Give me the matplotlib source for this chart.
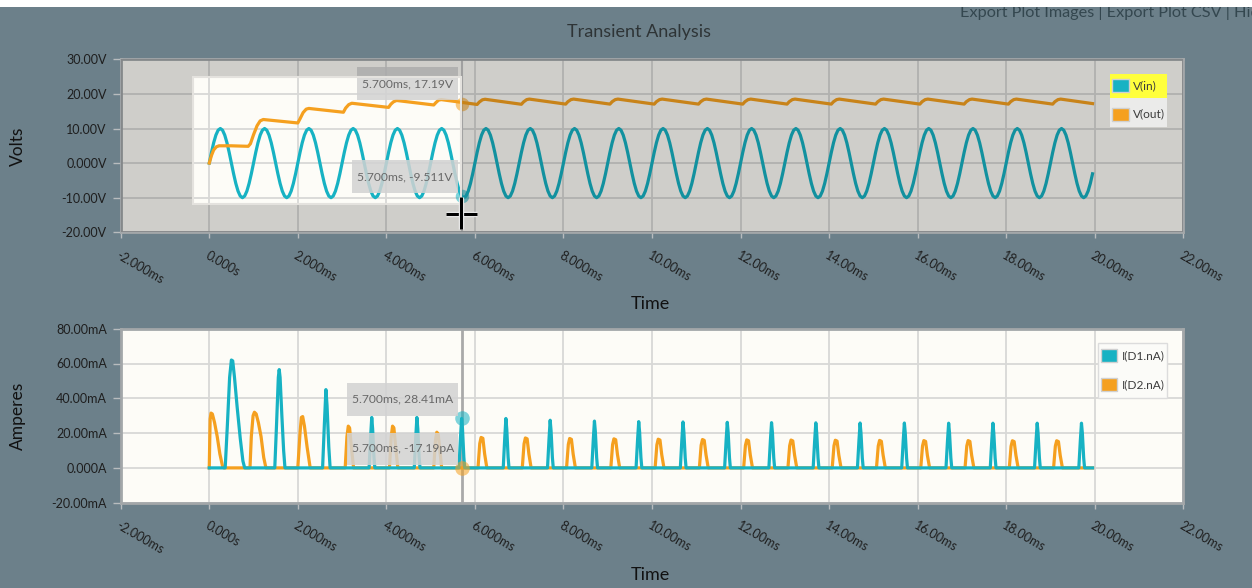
import numpy as np
import matplotlib
matplotlib.use("Agg")
import matplotlib.pyplot as plt
from matplotlib.patches import Rectangle, PathPatch
from matplotlib.path import Path
from matplotlib.lines import Line2D
import matplotlib.patheffects as pe

plt.rcParams['font.family'] = ['Lato', 'DejaVu Sans']

# ---------------- data ----------------
title = "Transient Analysis"
series_top = ["V(in)", "V(out)"]
series_bot = ["I(D1.nA)", "I(D2.nA)"]

# V(in) sampled every 0.05 ms (0 .. 19.95 ms)
vin_step = 0.05
vin_v = [
 0.0, 3.09, 5.88, 8.09, 9.51, 10.0, 9.51, 8.09, 5.88, 3.09, 0.0, -3.09, -5.88, -8.09, -9.51, -10.0, -9.51, -8.09, -5.88, -3.09,
 0.0, 3.09, 5.88, 8.09, 9.51, 10.0, 9.51, 8.09, 5.88, 3.09, 0.0, -3.09, -5.88, -8.09, -9.51, -10.0, -9.51, -8.09, -5.88, -3.09,
 0.0, 3.09, 5.88, 8.09, 9.51, 10.0, 9.51, 8.09, 5.88, 3.09, 0.0, -3.09, -5.88, -8.09, -9.51, -10.0, -9.51, -8.09, -5.88, -3.09,
 0.0, 3.09, 5.88, 8.09, 9.51, 10.0, 9.51, 8.09, 5.88, 3.09, 0.0, -3.09, -5.88, -8.09, -9.51, -10.0, -9.51, -8.09, -5.88, -3.09,
 0.0, 3.09, 5.88, 8.09, 9.51, 10.0, 9.51, 8.09, 5.88, 3.09, 0.0, -3.09, -5.88, -8.09, -9.51, -10.0, -9.51, -8.09, -5.88, -3.09,
 0.0, 3.09, 5.88, 8.09, 9.51, 10.0, 9.51, 8.09, 5.88, 3.09, 0.0, -3.09, -5.88, -8.09, -9.51, -10.0, -9.51, -8.09, -5.88, -3.09,
 0.0, 3.09, 5.88, 8.09, 9.51, 10.0, 9.51, 8.09, 5.88, 3.09, 0.0, -3.09, -5.88, -8.09, -9.51, -10.0, -9.51, -8.09, -5.88, -3.09,
 0.0, 3.09, 5.88, 8.09, 9.51, 10.0, 9.51, 8.09, 5.88, 3.09, 0.0, -3.09, -5.88, -8.09, -9.51, -10.0, -9.51, -8.09, -5.88, -3.09,
 0.0, 3.09, 5.88, 8.09, 9.51, 10.0, 9.51, 8.09, 5.88, 3.09, 0.0, -3.09, -5.88, -8.09, -9.51, -10.0, -9.51, -8.09, -5.88, -3.09,
 0.0, 3.09, 5.88, 8.09, 9.51, 10.0, 9.51, 8.09, 5.88, 3.09, 0.0, -3.09, -5.88, -8.09, -9.51, -10.0, -9.51, -8.09, -5.88, -3.09,
 0.0, 3.09, 5.88, 8.09, 9.51, 10.0, 9.51, 8.09, 5.88, 3.09, 0.0, -3.09, -5.88, -8.09, -9.51, -10.0, -9.51, -8.09, -5.88, -3.09,
 0.0, 3.09, 5.88, 8.09, 9.51, 10.0, 9.51, 8.09, 5.88, 3.09, 0.0, -3.09, -5.88, -8.09, -9.51, -10.0, -9.51, -8.09, -5.88, -3.09,
 0.0, 3.09, 5.88, 8.09, 9.51, 10.0, 9.51, 8.09, 5.88, 3.09, 0.0, -3.09, -5.88, -8.09, -9.51, -10.0, -9.51, -8.09, -5.88, -3.09,
 0.0, 3.09, 5.88, 8.09, 9.51, 10.0, 9.51, 8.09, 5.88, 3.09, 0.0, -3.09, -5.88, -8.09, -9.51, -10.0, -9.51, -8.09, -5.88, -3.09,
 0.0, 3.09, 5.88, 8.09, 9.51, 10.0, 9.51, 8.09, 5.88, 3.09, 0.0, -3.09, -5.88, -8.09, -9.51, -10.0, -9.51, -8.09, -5.88, -3.09,
 0.0, 3.09, 5.88, 8.09, 9.51, 10.0, 9.51, 8.09, 5.88, 3.09, 0.0, -3.09, -5.88, -8.09, -9.51, -10.0, -9.51, -8.09, -5.88, -3.09,
 0.0, 3.09, 5.88, 8.09, 9.51, 10.0, 9.51, 8.09, 5.88, 3.09, 0.0, -3.09, -5.88, -8.09, -9.51, -10.0, -9.51, -8.09, -5.88, -3.09,
 0.0, 3.09, 5.88, 8.09, 9.51, 10.0, 9.51, 8.09, 5.88, 3.09, 0.0, -3.09, -5.88, -8.09, -9.51, -10.0, -9.51, -8.09, -5.88, -3.09,
 0.0, 3.09, 5.88, 8.09, 9.51, 10.0, 9.51, 8.09, 5.88, 3.09, 0.0, -3.09, -5.88, -8.09, -9.51, -10.0, -9.51, -8.09, -5.88, -3.09,
 0.0, 3.09, 5.88, 8.09, 9.51, 10.0, 9.51, 8.09, 5.88, 3.09, 0.0, -3.09, -5.88, -8.09, -9.51, -10.0, -9.51, -8.09, -5.88, -3.09,
]

# V(out) (time ms, volts)
vout_t = [0.0, 0.05, 0.1, 0.16, 0.22, 0.5, 0.88, 0.93, 1.0, 1.08, 1.15, 1.22,
          2.0, 2.05, 2.12, 2.19, 2.25,
          3.03, 3.08, 3.15, 3.22,
          4.05, 4.1, 4.16, 4.23,
          5.07, 5.12, 5.18, 5.24,
          6.05, 6.1, 6.17, 6.23,
          7.05, 7.1, 7.17, 7.23,
          8.05, 8.1, 8.17, 8.23,
          9.05, 9.1, 9.17, 9.23,
          10.05, 10.1, 10.17, 10.23,
          11.05, 11.1, 11.17, 11.23,
          12.05, 12.1, 12.17, 12.23,
          13.05, 13.1, 13.17, 13.23,
          14.05, 14.1, 14.17, 14.23,
          15.05, 15.1, 15.17, 15.23,
          16.05, 16.1, 16.17, 16.23,
          17.05, 17.1, 17.17, 17.23,
          18.05, 18.1, 18.17, 18.23,
          19.05, 19.1, 19.17, 19.23,
          19.95]
vout_v = [0.0, 2.2, 3.8, 4.7, 5.0, 5.0, 4.85, 5.6, 8.2, 10.8, 12.2, 12.6,
          11.6, 12.8, 14.6, 15.6, 15.8,
          14.7, 15.9, 16.9, 17.3,
          16.1, 17.0, 17.7, 18.1,
          16.8, 17.5, 18.2, 18.35,
          16.95, 17.65, 18.3, 18.45,
          17.0, 17.7, 18.35, 18.5,
          17.05, 17.75, 18.35, 18.5,
          17.05, 17.75, 18.35, 18.5,
          17.05, 17.75, 18.35, 18.5,
          17.05, 17.75, 18.35, 18.5,
          17.05, 17.75, 18.35, 18.5,
          17.05, 17.75, 18.35, 18.5,
          17.05, 17.75, 18.35, 18.5,
          17.05, 17.75, 18.35, 18.5,
          17.05, 17.75, 18.35, 18.5,
          17.05, 17.75, 18.35, 18.5,
          17.05, 17.75, 18.35, 18.5,
          17.05, 17.75, 18.35, 18.5,
          17.2]

# I(D1) (time ms, mA)
d1_t = [0.0, 0.36, 0.41, 0.46, 0.5, 0.53, 0.57, 0.63, 0.7, 0.76, 0.8,
        1.48, 1.52, 1.56, 1.58, 1.6, 1.64, 1.68, 1.71,
        2.56, 2.6, 2.635, 2.66, 2.7, 2.73,
        3.61, 3.645, 3.67, 3.69, 3.72, 3.74,
        4.63, 4.665, 4.69, 4.71, 4.74, 4.76,
        5.64, 5.675, 5.7, 5.72, 5.75, 5.77,
        6.64, 6.675, 6.7, 6.72, 6.75, 6.77,
        7.64, 7.675, 7.7, 7.72, 7.75, 7.77,
        8.64, 8.675, 8.7, 8.72, 8.75, 8.77,
        9.64, 9.675, 9.7, 9.72, 9.75, 9.77,
        10.64, 10.675, 10.7, 10.72, 10.75, 10.77,
        11.64, 11.675, 11.7, 11.72, 11.75, 11.77,
        12.64, 12.675, 12.7, 12.72, 12.75, 12.77,
        13.64, 13.675, 13.7, 13.72, 13.75, 13.77,
        14.64, 14.675, 14.7, 14.72, 14.75, 14.77,
        15.64, 15.675, 15.7, 15.72, 15.75, 15.77,
        16.64, 16.675, 16.7, 16.72, 16.75, 16.77,
        17.64, 17.675, 17.7, 17.72, 17.75, 17.77,
        18.64, 18.675, 18.7, 18.72, 18.75, 18.77,
        19.64, 19.675, 19.7, 19.72, 19.75, 19.77,
        19.95]
d1_i = [0, 0, 25, 52, 62, 61.5, 52, 35, 17, 4, 0,
        0, 25, 52, 56.5, 52, 30, 10, 0,
        0, 25, 45, 36, 12, 0,
        0, 18, 29, 22.5, 6.3, 0,
        0, 18, 29, 22.5, 6.3, 0,
        0, 17.7, 28.41, 22.3, 6.2, 0,
        0, 17.6, 28.4, 22.2, 6.2, 0,
        0, 17.0, 27.4, 21.4, 6.0, 0,
        0, 16.7, 26.9, 21.0, 5.9, 0,
        0, 16.5, 26.6, 20.7, 5.9, 0,
        0, 16.4, 26.4, 20.6, 5.8, 0,
        0, 16.2, 26.2, 20.4, 5.8, 0,
        0, 16.1, 26.0, 20.3, 5.7, 0,
        0, 16.1, 25.9, 20.2, 5.7, 0,
        0, 16.0, 25.8, 20.1, 5.7, 0,
        0, 16.0, 25.8, 20.1, 5.7, 0,
        0, 15.9, 25.7, 20.0, 5.7, 0,
        0, 15.9, 25.7, 20.0, 5.7, 0,
        0, 15.9, 25.7, 20.0, 5.7, 0,
        0, 15.9, 25.7, 20.0, 5.7, 0,
        0]

# I(D2) (time ms, mA)
d2_t = [0.0, 0.02, 0.04, 0.07, 0.12, 0.18, 0.24, 0.3, 0.33,
        0.92, 0.95, 0.99, 1.02, 1.06, 1.11, 1.17, 1.23, 1.28,
        2.0, 2.05, 2.08, 2.11, 2.15, 2.21, 2.28,
        3.07, 3.11, 3.14, 3.17, 3.21, 3.26,
        4.07, 4.11, 4.14, 4.17, 4.21, 4.26,
        5.07, 5.11, 5.14, 5.17, 5.21, 5.25,
        6.07, 6.11, 6.14, 6.18, 6.22, 6.27,
        7.07, 7.11, 7.14, 7.18, 7.22, 7.27,
        8.07, 8.11, 8.14, 8.18, 8.22, 8.27,
        9.07, 9.11, 9.14, 9.18, 9.22, 9.27,
        10.07, 10.11, 10.14, 10.18, 10.22, 10.27,
        11.07, 11.11, 11.14, 11.18, 11.22, 11.27,
        12.07, 12.11, 12.14, 12.18, 12.22, 12.27,
        13.07, 13.11, 13.14, 13.18, 13.22, 13.27,
        14.07, 14.11, 14.14, 14.18, 14.22, 14.27,
        15.07, 15.11, 15.14, 15.18, 15.22, 15.27,
        16.07, 16.11, 16.14, 16.18, 16.22, 16.27,
        17.07, 17.11, 17.14, 17.18, 17.22, 17.27,
        18.07, 18.11, 18.14, 18.18, 18.22, 18.27,
        19.07, 19.11, 19.14, 19.18, 19.22, 19.27,
        19.95]
d2_i = [0, 28, 31.5, 31, 26, 18, 8, 1, 0,
        0, 18, 30, 32, 31, 26, 18, 6, 0,
        0, 20, 29, 29.5, 24, 12, 0,
        0, 18, 24, 23, 12, 0,
        0, 18, 24, 23, 12, 0,
        0, 16, 20.5, 19.5, 10, 0,
        0, 14.0, 17.5, 17.0, 8.0, 0,
        0, 13.8, 17.2, 16.7, 7.9, 0,
        0, 13.5, 16.9, 16.4, 7.8, 0,
        0, 13.4, 16.7, 16.2, 7.7, 0,
        0, 13.2, 16.5, 16.0, 7.6, 0,
        0, 13.0, 16.3, 15.8, 7.5, 0,
        0, 12.9, 16.1, 15.6, 7.4, 0,
        0, 12.8, 16.0, 15.5, 7.4, 0,
        0, 12.7, 15.9, 15.4, 7.3, 0,
        0, 12.6, 15.8, 15.3, 7.3, 0,
        0, 12.6, 15.7, 15.2, 7.2, 0,
        0, 12.6, 15.7, 15.2, 7.2, 0,
        0, 12.5, 15.6, 15.1, 7.2, 0,
        0, 12.5, 15.6, 15.1, 7.2, 0,
        0]

# hover readout at 5.700 ms
hover_t = 5.7
hover_vout = 17.19
hover_vin = -9.511
hover_d1 = 28.41
hover_d2 = -17.19e-9
hover_labels = ["5.700ms, 17.19V", "5.700ms, -9.511V", "5.700ms, 28.41mA", "5.700ms, -17.19pA"]

x_ticks = [-2, 0, 2, 4, 6, 8, 10, 12, 14, 16, 18, 20, 22]
x_tick_labels = ["-2.000ms", "0.000s", "2.000ms", "4.000ms", "6.000ms", "8.000ms", "10.00ms",
                 "12.00ms", "14.00ms", "16.00ms", "18.00ms", "20.00ms", "22.00ms"]
v_ticks = [-20, -10, 0, 10, 20, 30]
v_tick_labels = ["-20.00V", "-10.00V", "0.000V", "10.00V", "20.00V", "30.00V"]
i_ticks = [-20, 0, 20, 40, 60, 80]
i_tick_labels = ["-20.00mA", "0.000A", "20.00mA", "40.00mA", "60.00mA", "80.00mA"]

# ---------------- style ----------------
W, H = 1252, 588
BG = "#6c808a"
PLOT_BG = "#fdfcf7"
TEAL = "#17b2c3"
ORANGE = "#f5a01f"
GRID = "#d8d8d6"

fig = plt.figure(figsize=(W / 100, H / 100), dpi=100)
fig.patch.set_facecolor(BG)


def fx(x):
    return x / W


def fy(y):
    return 1 - y / H


def add_axes_px(l, t, r, b):
    return fig.add_axes([fx(l), fy(b), (r - l) / W, (b - t) / H])


ax1 = add_axes_px(120.7, 59.3, 1183.3, 232.3)
ax2 = add_axes_px(120.7, 328.7, 1183.3, 502.7)

for ax, yt, ytl, ylim in [(ax1, v_ticks, v_tick_labels, (-20, 30)),
                          (ax2, i_ticks, i_tick_labels, (-20, 80))]:
    ax.set_facecolor(PLOT_BG)
    ax.set_xlim(-2, 22)
    ax.set_ylim(*ylim)
    ax.set_xticks(x_ticks)
    ax.set_xticklabels(x_tick_labels, rotation=-30, ha="left", va="top",
                       rotation_mode="anchor")
    ax.set_yticks(yt)
    ax.set_yticklabels(ytl)
    ax.tick_params(axis="x", length=4, width=1, color="#b8bcbe", pad=8,
                   labelsize=9, labelcolor="#1e1e1e")
    ax.tick_params(axis="y", length=6, width=1, color="#b8bcbe", pad=4,
                   labelsize=9, labelcolor="#1e1e1e")
    ax.grid(True, color=GRID, lw=1.3)
    ax.set_axisbelow(True)
    for s in ax.spines.values():
        s.set_color("#a3a7a9")
        s.set_linewidth(2)

t_in = np.arange(len(vin_v)) * vin_step

# top chart lines
ax1.plot(t_in, vin_v, color=TEAL, lw=2.3, zorder=3, solid_joinstyle="round")
ax1.plot(vout_t, vout_v, color=ORANGE, lw=2.3, zorder=4, solid_joinstyle="round")

# bottom chart lines
ax2.plot(d2_t, d2_i, color=ORANGE, lw=2.3, zorder=3, solid_joinstyle="round")
ax2.plot(d1_t, d1_i, color=TEAL, lw=2.3, zorder=4, solid_joinstyle="round")

# hover vertical lines
ax1.axvline(hover_t, color="#c4c4c4", lw=1.5, zorder=2.5)
ax2.axvline(hover_t, color="#a9a9a9", lw=2, zorder=2.5)

# hover markers
ax1.scatter([hover_t], [hover_vout], s=95, color=ORANGE, alpha=0.55, zorder=5, lw=0)
ax1.scatter([hover_t], [hover_vin], s=95, color=TEAL, alpha=0.55, zorder=5, lw=0)
ax2.scatter([hover_t], [hover_d1], s=110, color=TEAL, alpha=0.55, zorder=5, lw=0)
ax2.scatter([hover_t], [hover_d2 * 1e3], s=110, color=ORANGE, alpha=0.55, zorder=5, lw=0)


# tooltips (pixel boxes)
def tooltip(ax, l, t, r, b, text):
    ax.add_patch(Rectangle((fx(l), fy(b)), (r - l) / W, (b - t) / H,
                           transform=fig.transFigure, facecolor="#d2d2d2",
                           edgecolor="none", alpha=0.85, zorder=6, clip_on=False))
    ax.text(fx((l + r) / 2), fy((t + b) / 2), text, transform=fig.transFigure,
            ha="center", va="center", fontsize=8.7, color="#686868", zorder=7)


tooltip(ax1, 356.7, 67.3, 458.3, 100.0, hover_labels[0])
tooltip(ax1, 352.3, 160.0, 458.3, 193.3, hover_labels[1])
tooltip(ax2, 347.3, 382.7, 458.3, 416.0, hover_labels[2])
tooltip(ax2, 347.3, 432.7, 458.3, 465.0, hover_labels[3])

# selection rectangle with dimmed surroundings (top chart)
sx0, sx1, sy0, sy1 = -0.375, 5.69, -11.85, 24.75
verts = [(-2, -20), (22, -20), (22, 30), (-2, 30), (-2, -20),
         (sx0, sy0), (sx0, sy1), (sx1, sy1), (sx1, sy0), (sx0, sy0)]
codes = [Path.MOVETO, Path.LINETO, Path.LINETO, Path.LINETO, Path.CLOSEPOLY] * 2
ax1.add_patch(PathPatch(Path(verts, codes), facecolor="black", alpha=0.18,
                        edgecolor="none", zorder=8))
ax1.add_patch(Rectangle((sx0, sy0), sx1 - sx0, sy1 - sy0, fill=False,
                        edgecolor="#e4e2de", lw=1.5, zorder=8.5))

# legends (pixel placement)
def legend_box(l, t, r, b, face, edge):
    fig.add_artist(Rectangle((fx(l), fy(b)), (r - l) / W, (b - t) / H,
                             transform=fig.transFigure, facecolor=face,
                             edgecolor=edge, lw=1, zorder=20))


def legend_entry(x, y, color, label):
    fig.add_artist(Rectangle((fx(x), fy(y + 6.5)), 16.5 / W, 13 / H,
                             transform=fig.transFigure, facecolor=color,
                             edgecolor="#d0d0d0", lw=1, zorder=21))
    fig.text(fx(x + 21), fy(y), label, ha="left", va="center", fontsize=8.6,
             color="#3c3c3c", zorder=22)


legend_box(1110, 74, 1167.3, 127.3, "#ebebea", "none")
legend_box(1110, 74, 1167.3, 98.3, "#ffff3c", "none")
legend_entry(1112.3, 85.5, TEAL, series_top[0])
legend_entry(1112.3, 114, ORANGE, series_top[1])

legend_box(1097.7, 343.3, 1167.3, 397.7, "#fbfbf8", "#dcdcdc")
legend_entry(1100.7, 355.5, TEAL, series_bot[0])
legend_entry(1100.7, 384.5, ORANGE, series_bot[1])

# texts
fig.text(fx(639), fy(32), title, ha="center", va="center", fontsize=13, color="#2e3436")
fig.text(fx(18), fy(146), "Volts", rotation=90, ha="center", va="center",
         fontsize=12.5, color="#111111")
fig.text(fx(18), fy(416), "Amperes", rotation=90, ha="center", va="center",
         fontsize=12.5, color="#111111")
fig.text(fx(650), fy(304), "Time", ha="center", va="center", fontsize=13, color="#111111")
fig.text(fx(650), fy(575), "Time", ha="center", va="center", fontsize=13, color="#111111")
fig.text(fx(960), fy(16.7), "Export Plot Images | Export Plot CSV | Hide Plot",
         ha="left", va="baseline", fontsize=11.7, color="#34474f")
fig.add_artist(Rectangle((0, fy(6.7)), 1, 6.7 / H, transform=fig.transFigure,
                         facecolor="white", edgecolor="none", zorder=30))

# mouse crosshair cursor
for xs, ys in [([445.7, 477.3], [213.5, 213.5]), ([461, 461], [196.7, 229.3])]:
    fig.add_artist(Line2D([fx(v) for v in xs], [fy(v) for v in ys],
                          transform=fig.transFigure, color="black", lw=2.3,
                          solid_capstyle="butt", zorder=40,
                          path_effects=[pe.Stroke(linewidth=3.8, foreground="white"),
                                        pe.Normal()]))

fig.savefig("out.png", dpi=100, facecolor=fig.get_facecolor())
